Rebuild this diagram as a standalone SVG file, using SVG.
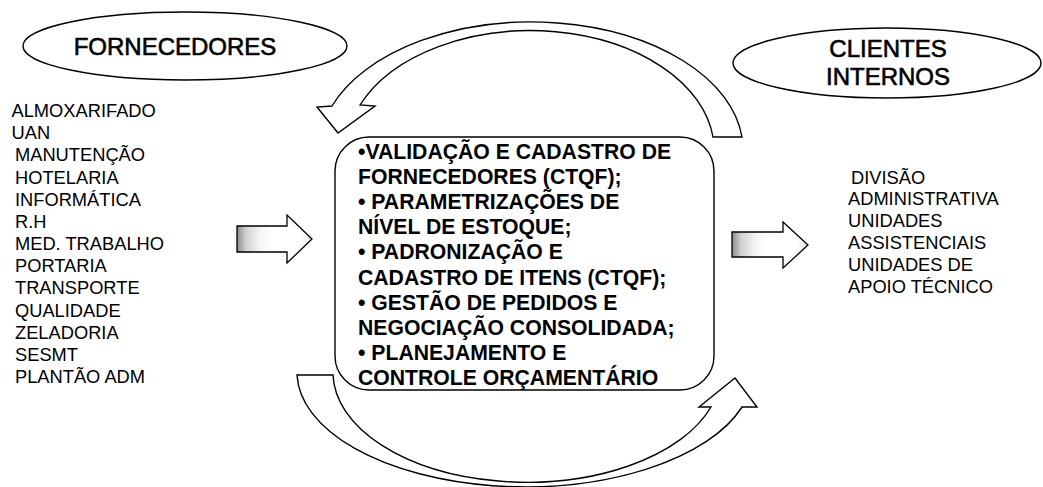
<svg xmlns="http://www.w3.org/2000/svg" width="1043" height="487" viewBox="0 0 1043 487">
<defs>
<linearGradient id="shade" x1="0" y1="0" x2="1" y2="0">
<stop offset="0" stop-color="#8c8c8c"/>
<stop offset="0.12" stop-color="#d0d0d0"/>
<stop offset="0.3" stop-color="#f4f4f4"/>
<stop offset="0.45" stop-color="#ffffff"/>
<stop offset="0.85" stop-color="#ffffff"/>
<stop offset="1" stop-color="#e2e2e2"/>
</linearGradient>
<style>
.shape{fill:#fff;stroke:#000;stroke-width:1.4}
.block{fill:url(#shade);stroke:#000;stroke-width:1.3}
.curve{fill:#fff;stroke:#000;stroke-width:1.4;stroke-linejoin:miter}
.title{font-family:"Liberation Sans",Arial,sans-serif;font-size:24px;fill:#000;stroke:#000;stroke-width:0.6;text-anchor:middle}
.list{font-family:"Liberation Sans",Arial,sans-serif;font-size:18.3px;fill:#000}
.proc{font-family:"Liberation Sans",Arial,sans-serif;font-size:21.2px;font-weight:bold;fill:#000}
</style>
</defs>
<rect width="1043" height="487" fill="#fff"/>

<g id="connectors">
<path id="arrow-top" class="curve" d="M742 137 A212 128 0 0 0 332 106 L317 107 L338 133 L375 106 L360 105 A184 120 0 0 1 713 137 Z"/>
<path id="arrow-bottom" class="curve" d="M297 375 A228 115 0 0 0 742 407 L757 407 L735 378 L699 407 L711 407 A194 110 0 0 1 333 375 Z"/>
<path id="arrow-in" class="block" d="M237 226 L287 226 L287 215 L312 239 L287 263 L287 252 L237 252 Z"/>
<path id="arrow-out" class="block" d="M732 232 L783 232 L783 222 L808 245 L783 268 L783 257 L732 257 Z"/>
</g>

<g id="node-fornecedores">
<ellipse class="shape" cx="185" cy="46" rx="162" ry="34"/>
<text class="title" x="175" y="55">FORNECEDORES</text>
</g>

<g id="node-clientes">
<ellipse class="shape" cx="887" cy="63" rx="154" ry="35"/>
<text class="title" x="888" y="57">CLIENTES</text>
<text class="title" x="888" y="85">INTERNOS</text>
</g>

<g id="node-fornecedores-list" class="list">
<text x="11.5" y="117">ALMOXARIFADO</text>
<text x="11.5" y="139.2">UAN</text>
<text x="15" y="161.3">MANUTENÇÃO</text>
<text x="15" y="183.5">HOTELARIA</text>
<text x="15" y="205.7">INFORMÁTICA</text>
<text x="15" y="227.8">R.H</text>
<text x="15" y="250">MED. TRABALHO</text>
<text x="15" y="272.2">PORTARIA</text>
<text x="15" y="294.3">TRANSPORTE</text>
<text x="15" y="316.5">QUALIDADE</text>
<text x="15" y="338.7">ZELADORIA</text>
<text x="15" y="360.8">SESMT</text>
<text x="15" y="383">PLANTÃO ADM</text>
</g>

<g id="node-processes">
<rect class="shape" x="335" y="137" width="379" height="253" rx="34" ry="34"/>
<g class="proc">
<text x="358" y="159">•VALIDAÇÃO E CADASTRO DE</text>
<text x="358" y="184.1">FORNECEDORES (CTQF);</text>
<text x="358" y="209.2">• PARAMETRIZAÇÕES DE</text>
<text x="358" y="234.3">NÍVEL DE ESTOQUE;</text>
<text x="358" y="259.4">• PADRONIZAÇÃO E</text>
<text x="358" y="284.5">CADASTRO DE ITENS (CTQF);</text>
<text x="358" y="309.6">• GESTÃO DE PEDIDOS E</text>
<text x="358" y="334.7">NEGOCIAÇÃO CONSOLIDADA;</text>
<text x="358" y="359.8">• PLANEJAMENTO E</text>
<text x="358" y="385">CONTROLE ORÇAMENTÁRIO</text>
</g>
</g>

<g id="node-clientes-list" class="list">
<text x="851" y="183.5">DIVISÃO</text>
<text x="848" y="205.3">ADMINISTRATIVA</text>
<text x="848" y="227.1">UNIDADES</text>
<text x="848" y="248.9">ASSISTENCIAIS</text>
<text x="848" y="270.7">UNIDADES DE</text>
<text x="848" y="292.5">APOIO TÉCNICO</text>
</g>
</svg>
